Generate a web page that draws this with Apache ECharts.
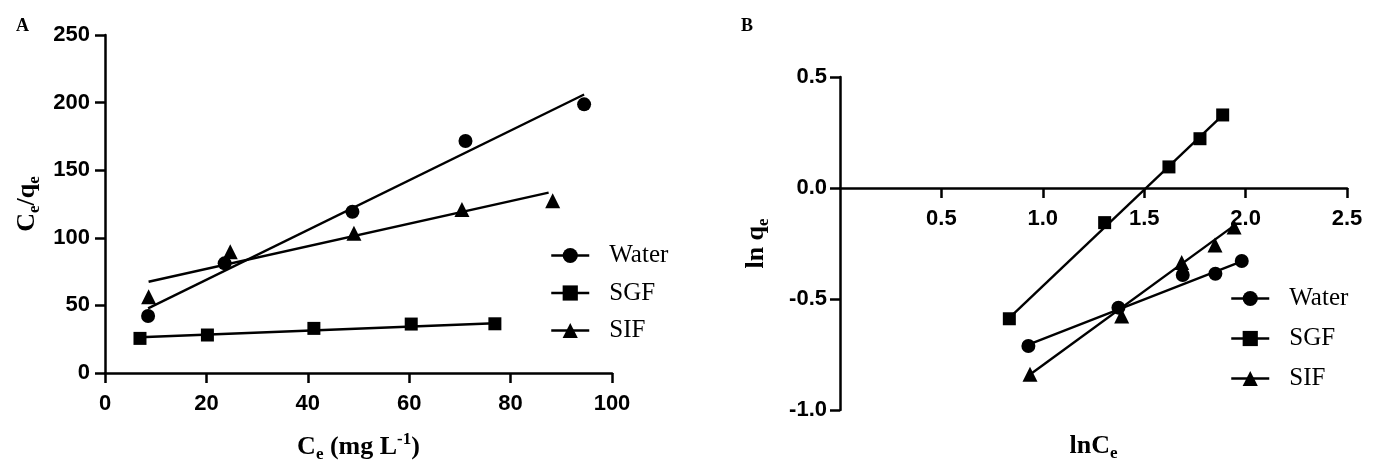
<!DOCTYPE html>
<html>
<head>
<meta charset="utf-8">
<script src="https://cdn.jsdelivr.net/npm/echarts@6/dist/echarts.min.js"></script>
<style>
  html, body { margin: 0; padding: 0; background: #fff; }
  #main { width: 1378px; height: 463px; }
</style>
</head>
<body>
<div id="main"></div>
<script>
var names = ['Water', 'SGF', 'SIF'];
var symbols = ['circle', 'rect', 'triangle'];
var symbolSizes = [14, 13, 15];

// A: Ce vs Ce/qe
var waterA = [[8.5, 42.2], [23.6, 81.1], [48.8, 119.3], [71.1, 171.6], [94.5, 198.7]];
var sgfA = [[6.9, 25.6], [20.2, 28.1], [41.2, 33.0], [60.4, 36.2], [76.9, 36.4]];
var sifA = [[8.6, 56.4], [24.7, 89.7], [49.1, 103.3], [70.4, 121.0], [88.3, 127.4]];
// fitted lines (end points)
var waterFitA = [[8.5, 47.8], [94.5, 206.0]];
var sgfFitA = [[6.9, 26.4], [76.9, 36.8]];
var sifFitA = [[8.6, 67.5], [87.5, 133.4]];

// B: lnCe vs ln qe
var waterB = [[0.929, -0.712], [1.373, -0.539], [1.690, -0.392], [1.851, -0.386], [1.981, -0.329]];
var sgfB = [[0.835, -0.589], [1.305, -0.156], [1.622, 0.095], [1.775, 0.222], [1.887, 0.329]];
var sifB = [[0.937, -0.839], [1.389, -0.577], [1.685, -0.336], [1.849, -0.257], [1.943, -0.176]];
var waterFitB = [[0.929, -0.705], [1.981, -0.330]];
var sgfFitB = [[0.835, -0.585], [1.890, 0.330]];
var sifFitB = [[0.937, -0.840], [1.950, -0.165]];

var xTicksA = { min: 0, max: 100, interval: 20 };
var yTicksA = { min: 0, max: 250, interval: 50 };
var xTicksB = { min: 0, max: 2.5, interval: 0.5 };
var yTicksB = { min: -1, max: 0.5, interval: 0.5 };

var serif = "'Liberation Serif', 'Times New Roman', serif";
var sans = "'Liberation Sans', Arial, sans-serif";

var titleRich = {
  m: { fontFamily: serif, fontWeight: 'bold', fontSize: 26, color: '#000' },
  s: { fontFamily: serif, fontWeight: 'bold', fontSize: 17, color: '#000', padding: [15, 0, 0, 0] },
  p: { fontFamily: serif, fontWeight: 'bold', fontSize: 17, color: '#000', padding: [0, 0, 15, 0] }
};

function axisBase(ticks, labelMargin, fmt) {
  return {
    type: 'value',
    min: ticks.min,
    max: ticks.max,
    interval: ticks.interval,
    splitLine: { show: false },
    axisLine: { lineStyle: { color: '#000', width: 2.5 } },
    axisTick: { length: 10, lineStyle: { color: '#000', width: 2.5 } },
    axisLabel: {
      color: '#000', fontFamily: sans, fontWeight: 'bold', fontSize: 22,
      margin: labelMargin,
      formatter: fmt
    },
    nameLocation: 'middle',
    nameTextStyle: { rich: titleRich }
  };
}

function fixed1(v) { return v.toFixed(1); }

var gridB = { left: 840, top: 77, width: 507, height: 333 };
// pixel distance from the bottom of grid B up to the y = 0 line
var zeroLiftB = gridB.height * (0 - yTicksB.min) / (yTicksB.max - yTicksB.min);

var xA = axisBase(xTicksA, 20);
xA.gridIndex = 0;
xA.name = '{m|C}{s|e}{m| (mg L}{p|-1}{m|)}';
xA.nameGap = 58;

var yA = axisBase(yTicksA, 15);
yA.gridIndex = 0;
yA.name = '{m|C}{s|e}{m|/q}{s|e}';
yA.nameGap = 62;

var xB = axisBase(xTicksB, 20, fixed1);
xB.gridIndex = 1;
xB.position = 'bottom';
xB.offset = -zeroLiftB;
xB.axisLine.onZero = false;
xB.axisLabel.showMinLabel = false;
xB.name = '{m|lnC}{s|e}';
xB.nameGap = 242;

var yB = axisBase(yTicksB, 13, fixed1);
yB.gridIndex = 1;
yB.name = '{m|ln q}{s|e}';
yB.nameGap = 68;

var series = [];
function addPanel(idx, points, fits) {
  fits.forEach(function (d) {
    series.push({
      type: 'line', xAxisIndex: idx, yAxisIndex: idx,
      data: d, symbol: 'none', silent: true,
      lineStyle: { color: '#000', width: 2.4 }, z: 2
    });
  });
  points.forEach(function (d, i) {
    series.push({
      type: 'line', name: names[i], xAxisIndex: idx, yAxisIndex: idx,
      data: d, symbol: symbols[i], symbolSize: symbolSizes[i],
      itemStyle: { color: '#000' },
      lineStyle: { color: '#000', opacity: 0 }, z: 3
    });
  });
}
addPanel(0, [waterA, sgfA, sifA], [waterFitA, sgfFitA, sifFitA]);
addPanel(1, [waterB, sgfB, sifB], [waterFitB, sgfFitB, sifFitB]);

function legendAt(left, top, gap) {
  return {
    orient: 'vertical', left: left, top: top, itemGap: gap, padding: 0,
    itemWidth: 38, itemHeight: 19, selectedMode: false,
    data: names,
    lineStyle: { color: '#000', width: 2.5, opacity: 1 },
    itemStyle: { color: '#000' },
    textStyle: { fontFamily: serif, fontSize: 25, color: '#000', padding: [0, 0, 0, 15] }
  };
}

var chart = echarts.init(document.getElementById('main'));
chart.setOption({
  animation: false,
  backgroundColor: '#fff',
  title: [
    { text: 'A', left: 11, top: 12, textStyle: { fontFamily: serif, fontWeight: 'bold', fontSize: 18, color: '#000' } },
    { text: 'B', left: 736, top: 12, textStyle: { fontFamily: serif, fontWeight: 'bold', fontSize: 18, color: '#000' } }
  ],
  grid: [
    { left: 105, top: 35, width: 507, height: 338, containLabel: false, outerBoundsMode: 'none' },
    { left: gridB.left, top: gridB.top, width: gridB.width, height: gridB.height, containLabel: false, outerBoundsMode: 'none' }
  ],
  xAxis: [xA, xB],
  yAxis: [yA, yB],
  legend: [legendAt(550, 243, 12.5), legendAt(1230, 286, 15)],
  series: series
});
</script>
</body>
</html>
